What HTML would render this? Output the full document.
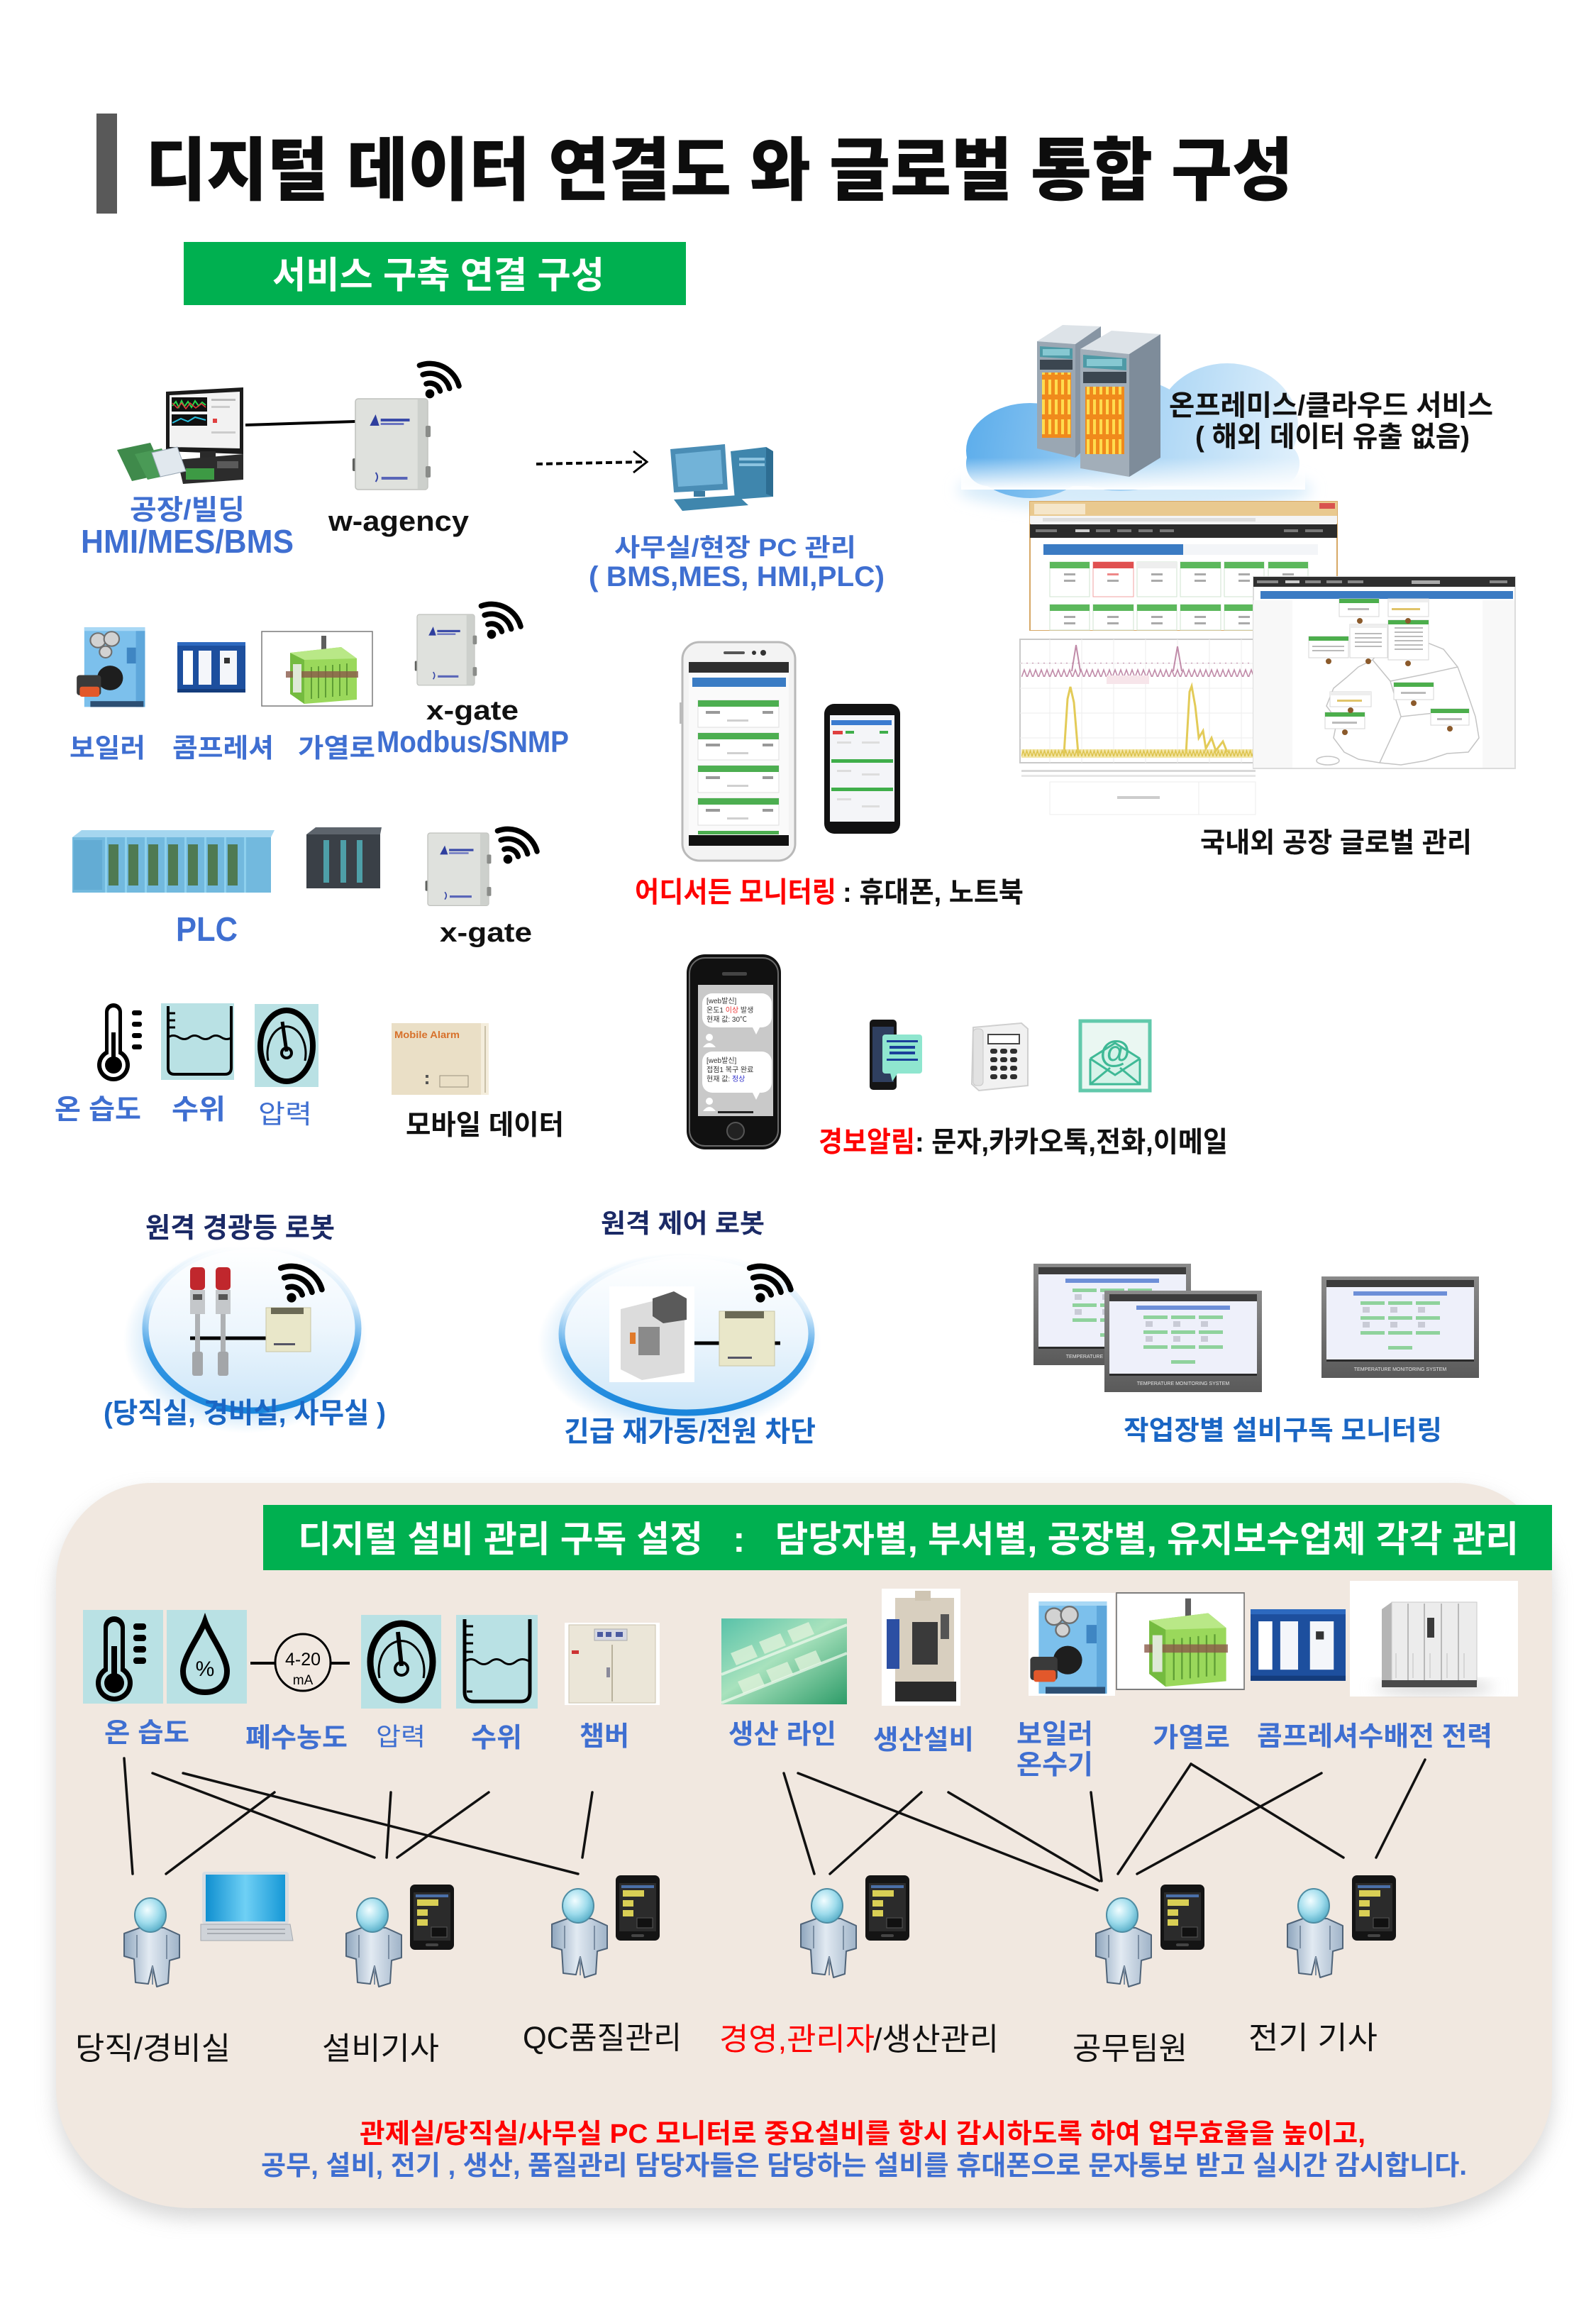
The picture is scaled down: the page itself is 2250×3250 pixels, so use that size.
<!DOCTYPE html>
<html lang="ko"><head><meta charset="utf-8"><title>디지털 데이터 연결도 와 글로벌 통합 구성</title>
<style>
html,body{margin:0;padding:0;background:#fff;width:2250px;height:3250px;overflow:hidden}
svg{display:block}
text{font-family:"Liberation Sans","Noto Sans CJK KR",sans-serif}
</style></head><body>
<svg xmlns="http://www.w3.org/2000/svg" width="2250" height="3250" viewBox="0 0 2250 3250">
<defs>
 <filter id="sh" x="-10%" y="-10%" width="120%" height="120%"><feGaussianBlur stdDeviation="14"/></filter>
 <filter id="bl" x="-30%" y="-30%" width="160%" height="160%"><feGaussianBlur stdDeviation="10"/></filter>
 <linearGradient id="cg" gradientUnits="userSpaceOnUse" x1="1360" y1="560" x2="1840" y2="640">
  <stop offset="0" stop-color="#5aaceb"/><stop offset="0.5" stop-color="#a6d3f4"/><stop offset="1" stop-color="#e2f1fc"/>
 </linearGradient>
 <linearGradient id="cfade" x1="0" y1="0" x2="0" y2="1"><stop offset="0" stop-color="#fff" stop-opacity="0"/><stop offset="1" stop-color="#fff" stop-opacity="1"/></linearGradient>
 <linearGradient id="ring" x1="0" y1="0" x2="0" y2="1">
  <stop offset="0" stop-color="#2b96e6" stop-opacity="0"/><stop offset="0.35" stop-color="#2b96e6" stop-opacity="0.15"/><stop offset="0.65" stop-color="#1a8ae0" stop-opacity="0.85"/><stop offset="1" stop-color="#1a86dc"/>
 </linearGradient>
 <linearGradient id="inner" x1="0" y1="0" x2="0" y2="1">
  <stop offset="0" stop-color="#fff"/><stop offset="0.5" stop-color="#edf6fd"/><stop offset="1" stop-color="#cde6f8"/>
 </linearGradient>
 <radialGradient id="halo"><stop offset="0.78" stop-color="#c9e4f8" stop-opacity="0.8"/><stop offset="1" stop-color="#c9e4f8" stop-opacity="0"/></radialGradient>
 <radialGradient id="head" cx="0.4" cy="0.35" r="0.65"><stop offset="0" stop-color="#f2fdff"/><stop offset="0.6" stop-color="#9fdcec"/><stop offset="1" stop-color="#5fb3cc"/></radialGradient>
 <linearGradient id="body" x1="0" y1="0" x2="1" y2="0"><stop offset="0" stop-color="#8ea5bd"/><stop offset="0.45" stop-color="#e2eaf2"/><stop offset="1" stop-color="#9fb3c8"/></linearGradient>
 <linearGradient id="pl" x1="0" y1="0" x2="1" y2="1"><stop offset="0" stop-color="#58c2a9"/><stop offset="0.45" stop-color="#a8e2bd"/><stop offset="1" stop-color="#2e9c69"/></linearGradient>
 <linearGradient id="lap" x1="0" y1="0" x2="1" y2="0"><stop offset="0" stop-color="#0f8fd0"/><stop offset="0.5" stop-color="#6fd0f5"/><stop offset="1" stop-color="#1597d6"/></linearGradient>
 <linearGradient id="monf" x1="0" y1="0" x2="0" y2="1"><stop offset="0" stop-color="#8a8a8a"/><stop offset="1" stop-color="#5a5a5a"/></linearGradient>
 <pattern id="srv" width="9" height="28" patternUnits="userSpaceOnUse"><rect width="9" height="28" fill="#f08a1c"/><rect x="2" y="3" width="4" height="21" fill="#ffdc4e"/></pattern>
 <pattern id="zz" width="8" height="20" patternUnits="userSpaceOnUse"><polyline points="0,15 4,4 8,15" fill="none" stroke="#c08aa8" stroke-width="1.6"/></pattern>
 <pattern id="yz" width="5" height="12" patternUnits="userSpaceOnUse"><rect width="5" height="12" fill="#f3e6a6"/><polyline points="0,10 2.5,2 5,10" fill="none" stroke="#dcc24a" stroke-width="1.4"/></pattern>

 <g id="wifi" fill="none" stroke="#000" stroke-width="6.5" stroke-linecap="round">
  <path d="M-4.4 -12.2 A13 13 0 0 1 12.6 -3.4"/>
  <path d="M-8.6 -23.5 A25 25 0 0 1 24.1 -6.5"/>
  <path d="M-12.7 -34.8 A37 37 0 0 1 35.7 -9.6"/>
  <circle r="5.5" fill="#000" stroke="none"/>
 </g>

 <g id="gw">
  <rect x="-4" y="84" width="7" height="18" rx="2" fill="#5f615e"/>
  <rect x="0" y="0" width="100" height="128" rx="4" fill="#dfe1dd" stroke="#bfc1bd" stroke-width="1.5"/>
  <rect x="86" y="1" width="13" height="126" fill="#cdd0cc"/>
  <rect x="97" y="38" width="7" height="16" rx="2" fill="#8a8c89"/>
  <rect x="97" y="95" width="7" height="16" rx="2" fill="#8a8c89"/>
  <path d="M20 38 L28 22 L33 38 Z" fill="#2f3f9e"/>
  <rect x="35" y="28" width="40" height="4" fill="#3a4aa8"/>
  <rect x="35" y="34" width="32" height="3" fill="#6a74c0"/>
  <rect x="36" y="110" width="36" height="4" fill="#5a66b8"/>
  <path d="M28 104 q5 6 0 13" stroke="#3a4aa8" stroke-width="2" fill="none"/>
 </g>

 <g id="boiler">
  <rect x="12" y="6" width="80" height="110" fill="#7cc0ec"/>
  <rect x="80" y="10" width="12" height="106" fill="#5ea7db"/>
  <rect x="12" y="6" width="80" height="5" fill="#a9d8f5"/>
  <circle cx="30" cy="24" r="10" fill="#d2d2d2" stroke="#6f6f6f" stroke-width="2"/>
  <circle cx="48" cy="22" r="10" fill="#d2d2d2" stroke="#6f6f6f" stroke-width="2"/>
  <circle cx="40" cy="40" r="8" fill="#d2d2d2" stroke="#6f6f6f" stroke-width="2"/>
  <rect x="68" y="34" width="12" height="22" fill="#3f86c3"/>
  <circle cx="46" cy="76" r="17" fill="#1e1e1e"/>
  <rect x="2" y="72" width="32" height="28" rx="4" fill="#3a3a3a"/>
  <rect x="6" y="88" width="26" height="14" rx="3" fill="#e2582b"/>
  <rect x="20" y="108" width="70" height="8" fill="#2d4f73"/>
 </g>

 <g id="furn">
  <rect x="0" y="0" width="156" height="105" fill="#fff" stroke="#7a7a7a" stroke-width="1.5"/>
  <rect x="84" y="6" width="7" height="26" fill="#5e5e5e"/>
  <polygon points="40,30 112,22 134,38 134,96 60,102 40,88" fill="#9ad85b"/>
  <polygon points="40,30 60,40 60,102 40,88" fill="#74bb3f"/>
  <polygon points="40,30 112,22 134,38 60,40" fill="#b9e887"/>
  <g stroke="#5f9e35" stroke-width="2"><line x1="70" y1="50" x2="70" y2="95"/><line x1="80" y1="49" x2="80" y2="94"/><line x1="90" y1="48" x2="90" y2="93"/><line x1="100" y1="47" x2="100" y2="92"/><line x1="110" y1="46" x2="110" y2="91"/><line x1="120" y1="45" x2="120" y2="90"/></g>
  <rect x="34" y="56" width="102" height="9" fill="#8a5a4a" opacity="0.8"/>
  <rect x="44" y="46" width="12" height="40" fill="#dfe9d6"/>
 </g>

 <g id="comp">
  <rect x="0" y="0" width="96" height="71" fill="#1d4f9e"/>
  <rect x="0" y="0" width="96" height="5" fill="#2d69bf"/>
  <rect x="8" y="12" width="14" height="48" fill="#fff"/>
  <rect x="30" y="12" width="18" height="48" fill="#f4f6fa"/>
  <rect x="60" y="12" width="24" height="48" fill="#f4f6fa"/>
  <rect x="66" y="22" width="8" height="8" fill="#333"/>
  <rect x="0" y="66" width="96" height="5" fill="#143c7c"/>
 </g>

 <g id="mon">
  <rect width="222" height="143" fill="url(#monf)"/>
  <rect x="7" y="5" width="208" height="10" fill="#3c3c3c"/>
  <rect x="7" y="15" width="208" height="102" fill="#eef0fa"/>
  <rect x="45" y="21" width="132" height="6" fill="#6d8fd8"/>
  <g fill="#8fd29c">
   <rect x="55" y="35" width="34" height="5"/><rect x="94" y="35" width="34" height="5"/><rect x="133" y="35" width="34" height="5"/>
   <rect x="55" y="56" width="34" height="5"/><rect x="94" y="56" width="34" height="5"/><rect x="133" y="56" width="34" height="5"/>
   <rect x="55" y="77" width="34" height="5"/><rect x="94" y="77" width="34" height="5"/><rect x="133" y="77" width="34" height="5"/>
   <rect x="94" y="98" width="34" height="5"/>
  </g>
  <g fill="#c9cbd6">
   <rect x="58" y="43" width="10" height="8"/><rect x="97" y="43" width="10" height="8"/><rect x="136" y="43" width="10" height="8"/>
   <rect x="58" y="64" width="10" height="8"/><rect x="97" y="64" width="10" height="8"/><rect x="136" y="64" width="10" height="8"/>
  </g>
  <rect x="7" y="117" width="208" height="3" fill="#2b2b2b"/>
  <text x="111" y="133" font-size="7" text-anchor="middle" fill="#e5e5e5">TEMPERATURE MONITORING SYSTEM</text>
 </g>

 <g id="person">
  <path d="M10 50 L32 42 L66 42 L88 52 L88 84 L74 88 L72 120 L56 125 L50 96 L44 121 L26 119 L24 86 L10 82 Z" fill="url(#body)" stroke="#4f6378" stroke-width="2" stroke-linejoin="round"/>
  <path d="M50 96 L50 122 M28 52 L28 84 M70 52 L70 86" stroke="#7a8da2" stroke-width="2" fill="none"/>
  <ellipse cx="47" cy="24" rx="22" ry="24" fill="url(#head)" stroke="#4f8da3" stroke-width="2"/>
 </g>

 <g id="phn">
  <rect x="0" y="0" width="62" height="92" rx="7" fill="#141414"/>
  <rect x="5" y="11" width="52" height="68" fill="#2b2b2b"/>
  <rect x="8" y="14" width="46" height="4" fill="#4a6fa8"/>
  <rect x="10" y="21" width="30" height="9" fill="#d9cf55"/>
  <rect x="10" y="35" width="15" height="9" fill="#d9cf55"/>
  <rect x="10" y="49" width="15" height="9" fill="#d9cf55"/>
  <rect x="30" y="60" width="22" height="14" fill="#111" stroke="#555"/>
  <rect x="22" y="83" width="18" height="4" rx="2" fill="#444"/>
 </g>
</defs>

<!-- ===== TITLE ===== -->
<rect x="136" y="160" width="29" height="141" fill="#595959"/>
<text x="205" y="274" font-size="97" font-weight="900" fill="#0d0d0d" textLength="1618" lengthAdjust="spacingAndGlyphs">디지털 데이터 연결도 와 글로벌 통합 구성</text>

<rect x="259" y="341" width="708" height="89" fill="#00b050"/>
<text x="384" y="406" font-size="52" font-weight="700" fill="#fff" textLength="468" lengthAdjust="spacingAndGlyphs">서비스 구축 연결 구성</text>

<!-- ===== HMI computer ===== -->
<polygon points="234,552 343,546 343,640 234,636" fill="#1b1b1b"/>
<polygon points="239,557 338,552 338,632 239,630" fill="#f2f2f2"/>
<rect x="242" y="560" width="50" height="20" fill="#111"/>
<polyline points="243,572 248,566 252,574 256,565 260,573 265,566 270,574 275,565 280,572 285,567 290,571" stroke="#27d64a" stroke-width="2" fill="none"/>
<polyline points="243,568 250,575 256,568 262,576 268,568 276,575 284,569 290,574" stroke="#e23b3b" stroke-width="1.5" fill="none"/>
<rect x="242" y="584" width="50" height="16" fill="#111"/>
<polyline points="243,596 255,590 265,594 275,588 290,592" stroke="#27c0e0" stroke-width="2" fill="none"/>
<rect x="298" y="562" width="34" height="3" fill="#bbb"/><rect x="298" y="572" width="26" height="3" fill="#ccc"/><rect x="300" y="590" width="6" height="6" fill="#e04040"/><rect x="298" y="608" width="34" height="3" fill="#ccc"/>
<rect x="282" y="636" width="22" height="10" fill="#2a2a2a"/>
<polygon points="250,648 343,640 343,676 258,682" fill="#2c2c2c"/>
<rect x="262" y="660" width="40" height="16" fill="#3d9a44"/>
<rect x="306" y="650" width="30" height="10" fill="#5a5a5a"/>
<polygon points="165,634 212,624 232,668 186,678" fill="#3f8a4b"/>
<polygon points="190,640 228,632 246,668 208,676" fill="#4a9a56"/>
<polygon points="214,638 250,630 262,664 226,672" fill="#e1e8ee" stroke="#9aa7b5"/>
<line x1="346" y1="599" x2="501" y2="594" stroke="#000" stroke-width="4"/>

<use href="#gw" transform="translate(501,562) scale(1.02,1.0)"/>
<use href="#wifi" transform="translate(606,555) scale(1.15)"/>

<text x="183" y="732" font-size="39" font-weight="700" fill="#3f6fd1" textLength="162" lengthAdjust="spacingAndGlyphs">공장/빌딩</text>
<text x="114" y="779" font-size="46" font-weight="700" fill="#3f6fd1" textLength="300" lengthAdjust="spacingAndGlyphs">HMI/MES/BMS</text>
<text x="463" y="748" font-size="40" font-weight="700" fill="#111" textLength="198" lengthAdjust="spacingAndGlyphs">w-agency</text>

<!-- dashed arrow -->
<line x1="756" y1="654" x2="906" y2="651" stroke="#000" stroke-width="4" stroke-dasharray="9 5"/>
<polyline points="893,636 912,651 893,666" fill="none" stroke="#000" stroke-width="3"/>

<!-- PC icon -->
<polygon points="945,633 1022,626 1026,690 950,694" fill="#4a8db5"/>
<polygon points="952,640 1016,634 1019,682 956,686" fill="#72b3d8"/>
<rect x="978" y="692" width="16" height="8" fill="#3a7aa0"/>
<polygon points="1030,636 1080,630 1090,636 1090,700 1036,704" fill="#3f86ad"/>
<polygon points="1080,630 1090,636 1090,700 1080,696" fill="#2d6d92"/>
<rect x="1042" y="645" width="36" height="4" fill="#8cc3e0"/><rect x="1042" y="653" width="36" height="4" fill="#8cc3e0"/>
<polygon points="950,704 1040,698 1055,712 962,720" fill="#3f86ad"/>

<text x="866" y="784" font-size="35" font-weight="700" fill="#3f6fd1" textLength="341" lengthAdjust="spacingAndGlyphs">사무실/현장 PC 관리</text>
<text x="830" y="826" font-size="40" font-weight="700" fill="#3f6fd1" textLength="417" lengthAdjust="spacingAndGlyphs">( BMS,MES, HMI,PLC)</text>

<!-- ===== Cloud & servers ===== -->
<ellipse cx="1600" cy="690" rx="250" ry="30" fill="#d6ebfa" filter="url(#bl)"/>
<g fill="url(#cg)">
 <ellipse cx="1730" cy="600" rx="100" ry="88"/>
 <ellipse cx="1452" cy="635" rx="90" ry="67"/>
 <ellipse cx="1580" cy="612" rx="112" ry="80"/>
 <rect x="1362" y="622" width="470" height="63" rx="31"/>
</g>
<rect x="1355" y="645" width="485" height="45" fill="url(#cfade)"/>
<!-- rack L -->
<polygon points="1462,481 1498,458 1552,460 1516,485" fill="#dde3e8"/>
<polygon points="1516,485 1552,460 1552,612 1516,645" fill="#8795a3"/>
<polygon points="1462,481 1516,485 1516,645 1462,632" fill="#9aa7b3"/>
<polygon points="1466,488 1512,491 1512,506 1466,503" fill="#4e9aa6"/>
<rect x="1470" y="492" width="38" height="9" fill="#86c8d2"/>
<rect x="1466" y="507" width="46" height="14" fill="#3b4650"/>
<rect x="1469" y="525" width="41" height="92" fill="url(#srv)"/>
<!-- rack R -->
<polygon points="1523,492 1567,466 1636,471 1592,499" fill="#dde3e8"/>
<polygon points="1592,499 1636,471 1636,645 1592,672" fill="#7e8c9a"/>
<polygon points="1523,492 1592,499 1592,672 1523,660" fill="#a2aeb9"/>
<polygon points="1527,500 1588,505 1588,522 1527,518" fill="#4e9aa6"/>
<rect x="1532" y="506" width="50" height="10" fill="#86c8d2"/>
<rect x="1527" y="524" width="61" height="16" fill="#3b4650"/>
<rect x="1530" y="545" width="55" height="95" fill="url(#srv)"/>

<text x="1648" y="585" font-size="40" font-weight="700" fill="#111" textLength="457" lengthAdjust="spacingAndGlyphs">온프레미스/클라우드 서비스</text>
<text x="1685" y="629" font-size="40" font-weight="700" fill="#111" textLength="387" lengthAdjust="spacingAndGlyphs">( 해외 데이터 유출 없음)</text>

<!-- ===== dashboard screenshot ===== -->
<rect x="1452" y="707" width="433" height="182" fill="#fff" stroke="#d7a866" stroke-width="2"/>
<rect x="1452" y="707" width="433" height="20" fill="#e9c98f"/>
<rect x="1458" y="710" width="72" height="15" fill="#f5e6c9"/>
<rect x="1860" y="709" width="22" height="8" fill="#d9534f"/>
<rect x="1452" y="727" width="433" height="11" fill="#f4f4f4"/>
<rect x="1470" y="730" width="300" height="5" fill="#ddd"/>
<rect x="1452" y="739" width="433" height="19" fill="#2b2b2b"/>
<g fill="#777"><rect x="1460" y="746" width="30" height="4"/><rect x="1516" y="746" width="20" height="4" fill="#ccc"/><rect x="1545" y="746" width="20" height="4"/><rect x="1575" y="746" width="20" height="4"/><rect x="1605" y="746" width="20" height="4"/><rect x="1635" y="746" width="20" height="4"/><rect x="1810" y="746" width="20" height="4"/><rect x="1840" y="746" width="25" height="4"/></g>
<rect x="1471" y="767" width="197" height="15" fill="#3b7bc3"/>
<rect x="1668" y="767" width="190" height="15" fill="#f3f5f8"/>
<g stroke="#cfe3cf" fill="#fff">
 <rect x="1480" y="792" width="56" height="49"/><rect x="1541" y="792" width="57" height="49" stroke="#f0a0a0"/><rect x="1603" y="792" width="56" height="49"/><rect x="1664" y="792" width="57" height="49"/><rect x="1726" y="792" width="56" height="49"/><rect x="1788" y="792" width="56" height="49"/>
 <rect x="1480" y="852" width="56" height="36"/><rect x="1541" y="852" width="57" height="36"/><rect x="1603" y="852" width="56" height="36"/><rect x="1664" y="852" width="57" height="36"/><rect x="1726" y="852" width="56" height="36"/>
</g>
<g fill="#5cb85c">
 <rect x="1480" y="792" width="56" height="9"/><rect x="1541" y="792" width="57" height="9" fill="#e05050"/><rect x="1603" y="792" width="56" height="9" fill="#eee"/><rect x="1664" y="792" width="57" height="9"/><rect x="1726" y="792" width="56" height="9"/><rect x="1788" y="792" width="56" height="9"/>
 <rect x="1480" y="852" width="56" height="9"/><rect x="1541" y="852" width="57" height="9"/><rect x="1603" y="852" width="56" height="9"/><rect x="1664" y="852" width="57" height="9"/><rect x="1726" y="852" width="56" height="9"/>
</g>
<g fill="#aaa">
 <rect x="1500" y="808" width="16" height="3"/><rect x="1500" y="817" width="16" height="3"/><rect x="1561" y="808" width="16" height="3" fill="#e88"/><rect x="1561" y="817" width="16" height="3"/><rect x="1623" y="808" width="16" height="3"/><rect x="1623" y="817" width="16" height="3"/><rect x="1684" y="808" width="16" height="3"/><rect x="1684" y="817" width="16" height="3"/><rect x="1746" y="808" width="16" height="3"/><rect x="1746" y="817" width="16" height="3"/><rect x="1808" y="808" width="16" height="3"/><rect x="1808" y="817" width="16" height="3"/>
 <rect x="1500" y="868" width="16" height="3"/><rect x="1500" y="877" width="16" height="3"/><rect x="1561" y="868" width="16" height="3"/><rect x="1561" y="877" width="16" height="3"/><rect x="1623" y="868" width="16" height="3"/><rect x="1623" y="877" width="16" height="3"/><rect x="1684" y="868" width="16" height="3"/><rect x="1684" y="877" width="16" height="3"/><rect x="1746" y="868" width="16" height="3"/><rect x="1746" y="877" width="16" height="3"/>
</g>

<!-- ===== chart screenshot ===== -->
<rect x="1424" y="889" width="346" height="262" fill="#fff"/>
<rect x="1438" y="901" width="332" height="174" fill="#fff" stroke="#c9c9c9" stroke-width="2"/>
<g stroke="#eeeeee" stroke-width="1">
 <line x1="1438" y1="935" x2="1770" y2="935"/><line x1="1438" y1="970" x2="1770" y2="970"/><line x1="1438" y1="1005" x2="1770" y2="1005"/><line x1="1438" y1="1040" x2="1770" y2="1040"/>
 <line x1="1480" y1="901" x2="1480" y2="1075"/><line x1="1525" y1="901" x2="1525" y2="1075"/><line x1="1570" y1="901" x2="1570" y2="1075"/><line x1="1615" y1="901" x2="1615" y2="1075"/><line x1="1660" y1="901" x2="1660" y2="1075"/><line x1="1705" y1="901" x2="1705" y2="1075"/><line x1="1750" y1="901" x2="1750" y2="1075"/>
</g>
<rect x="1440" y="934" width="330" height="20" fill="url(#zz)"/>
<polyline points="1511,946 1517,909 1523,946" fill="none" stroke="#c08aa8" stroke-width="2"/>
<polyline points="1654,946 1660,911 1666,946" fill="none" stroke="#c08aa8" stroke-width="2"/>
<rect x="1560" y="952" width="60" height="12" fill="#f7e5ea"/>
<rect x="1440" y="1056" width="330" height="12" fill="url(#yz)"/>
<polyline points="1500,1062 1505,985 1509,968 1514,990 1520,1062" fill="none" stroke="#e3cb58" stroke-width="3"/>
<polyline points="1672,1062 1677,975 1680,967 1685,995 1690,1040 1696,1030 1700,1055 1708,1040 1714,1058 1724,1045 1730,1060" fill="none" stroke="#e3cb58" stroke-width="3"/>
<g fill="#d8d8d8"><rect x="1440" y="1085" width="330" height="3"/><rect x="1440" y="1092" width="330" height="3" fill="#e6e6e6"/></g>
<g stroke="#eee" fill="none"><rect x="1480" y="1102" width="290" height="46"/><line x1="1690" y1="1102" x2="1690" y2="1148"/></g>
<rect x="1575" y="1122" width="60" height="4" fill="#ccc"/>

<!-- ===== map screenshot ===== -->
<rect x="1767" y="813" width="369" height="270" fill="#fff" stroke="#dcdcdc" stroke-width="2"/>
<rect x="1767" y="813" width="369" height="14" fill="#2f2f2f"/>
<g fill="#888"><rect x="1772" y="818" width="30" height="4"/><rect x="1812" y="818" width="20" height="4" fill="#ccc"/><rect x="1840" y="818" width="22" height="4"/><rect x="1870" y="818" width="22" height="4"/><rect x="1900" y="818" width="22" height="4"/><rect x="1990" y="818" width="40" height="5" fill="#aaa"/><rect x="2100" y="818" width="25" height="4"/></g>
<rect x="1777" y="833" width="356" height="11" fill="#3b7bc3"/>
<rect x="1767" y="846" width="55" height="236" fill="#f8f8f8"/>
<rect x="2090" y="846" width="45" height="236" fill="#f8f8f8"/>
<path d="M1960 900 L1990 890 L2010 905 L2035 915 L2055 940 L2068 975 L2080 1010 L2085 1040 L2070 1060 L2040 1062 L2010 1072 L1975 1078 L1945 1075 L1915 1070 L1895 1060 L1880 1040 L1885 1015 L1870 995 L1880 970 L1898 955 L1915 940 L1935 930 Z M1935 930 L1960 960 L2010 950 L2055 940 M1960 960 L1975 1010 L2068 1000 M1975 1010 L1945 1075" fill="none" stroke="#c4c4c4" stroke-width="1.5"/>
<ellipse cx="1872" cy="1072" rx="16" ry="6" fill="none" stroke="#c4c4c4" stroke-width="1.5"/>
<g stroke="#d5d5d5" fill="#fff">
 <rect x="1888" y="844" width="56" height="25"/><rect x="1957" y="844" width="57" height="25"/><rect x="1957" y="874" width="57" height="56"/><rect x="1903" y="880" width="53" height="47"/><rect x="1845" y="897" width="56" height="30"/><rect x="1965" y="962" width="56" height="24"/><rect x="1875" y="975" width="58" height="21"/><rect x="1868" y="1004" width="56" height="23"/><rect x="2017" y="999" width="54" height="23"/>
</g>
<g fill="#4cae4c">
 <rect x="1888" y="844" width="56" height="6"/><rect x="1957" y="874" width="57" height="6"/><rect x="1845" y="897" width="56" height="6"/><rect x="1965" y="962" width="56" height="6"/><rect x="1868" y="1004" width="56" height="6"/><rect x="2017" y="999" width="54" height="6"/><rect x="1957" y="844" width="57" height="5" fill="#eee"/><rect x="1903" y="880" width="53" height="5" fill="#eee"/><rect x="1875" y="975" width="58" height="5" fill="#eee"/>
</g>
<g fill="#bbb"><rect x="1900" y="857" width="30" height="3"/><rect x="1966" y="884" width="40" height="2"/><rect x="1966" y="890" width="40" height="2"/><rect x="1966" y="896" width="40" height="2"/><rect x="1966" y="902" width="40" height="2"/><rect x="1966" y="908" width="40" height="2"/><rect x="1966" y="914" width="40" height="2"/><rect x="1910" y="892" width="38" height="2"/><rect x="1910" y="898" width="38" height="2"/><rect x="1910" y="904" width="38" height="2"/><rect x="1910" y="910" width="38" height="2"/><rect x="1850" y="910" width="45" height="2"/><rect x="1850" y="916" width="45" height="2"/><rect x="1975" y="975" width="35" height="3"/><rect x="1885" y="986" width="35" height="3" fill="#e0c46a"/><rect x="1878" y="1017" width="35" height="3"/><rect x="2026" y="1012" width="35" height="3"/><rect x="1962" y="857" width="40" height="3" fill="#e0c46a"/></g>
<g fill="#8b5a2b"><circle cx="1917" cy="875" r="4"/><circle cx="1985" cy="875" r="4"/><circle cx="1985" cy="935" r="4"/><circle cx="1929" cy="932" r="4"/><circle cx="1873" cy="932" r="4"/><circle cx="1993" cy="991" r="4"/><circle cx="1904" cy="1001" r="4"/><circle cx="1896" cy="1032" r="4"/><circle cx="2044" cy="1027" r="4"/></g>

<text x="1692" y="1201" font-size="39" font-weight="700" fill="#111" textLength="383" lengthAdjust="spacingAndGlyphs">국내외 공장 글로벌 관리</text>

<!-- ===== left row 2: boiler, compressor, furnace, x-gate ===== -->
<use href="#boiler" transform="translate(106,878) scale(1.07,1.02)"/>
<use href="#comp" transform="translate(250,905) scale(1.0,1.0)"/>
<use href="#furn" transform="translate(369,890)"/>
<use href="#gw" transform="translate(588,866) scale(0.81,0.78)"/>
<use href="#wifi" transform="translate(693,894) scale(1.15)"/>

<text x="601" y="1014" font-size="38" font-weight="700" fill="#111" textLength="130" lengthAdjust="spacingAndGlyphs">x-gate</text>
<text x="98" y="1067" font-size="37" font-weight="700" fill="#3f6fd1" textLength="107" lengthAdjust="spacingAndGlyphs">보일러</text>
<text x="243" y="1067" font-size="37" font-weight="700" fill="#3f6fd1" textLength="143" lengthAdjust="spacingAndGlyphs">콤프레셔</text>
<text x="420" y="1067" font-size="37" font-weight="700" fill="#3f6fd1" textLength="109" lengthAdjust="spacingAndGlyphs">가열로</text>
<text x="531" y="1060" font-size="43" font-weight="700" fill="#3f6fd1" textLength="271" lengthAdjust="spacingAndGlyphs">Modbus/SNMP</text>

<!-- ===== phones (monitoring) ===== -->
<rect x="962" y="905" width="159" height="308" rx="24" fill="#f3f3f3" stroke="#b9b9b9" stroke-width="3"/>
<rect x="958" y="990" width="4" height="30" fill="#bbb"/>
<rect x="1020" y="918" width="30" height="4" rx="2" fill="#555"/>
<circle cx="1063" cy="920" r="3" fill="#333"/><circle cx="1076" cy="920" r="4" fill="#333"/>
<rect x="971" y="933" width="141" height="259" fill="#fafafa"/>
<rect x="971" y="933" width="141" height="15" fill="#2e2e2e"/>
<rect x="976" y="955" width="132" height="13" fill="#3a7cc4"/>
<g fill="#fff" stroke="#ddd"><rect x="984" y="987" width="114" height="38"/><rect x="984" y="1033" width="114" height="38"/><rect x="984" y="1079" width="114" height="38"/><rect x="984" y="1125" width="114" height="38"/></g>
<g fill="#4cae50"><rect x="984" y="987" width="114" height="9"/><rect x="984" y="1033" width="114" height="9"/><rect x="984" y="1079" width="114" height="9"/><rect x="984" y="1125" width="114" height="9"/><rect x="984" y="1171" width="114" height="5"/></g>
<g fill="#999"><rect x="995" y="1002" width="20" height="4"/><rect x="1075" y="1002" width="15" height="4"/><rect x="995" y="1048" width="20" height="4"/><rect x="1075" y="1048" width="15" height="4"/><rect x="995" y="1094" width="20" height="4"/><rect x="1075" y="1094" width="15" height="4"/><rect x="995" y="1140" width="20" height="4"/><rect x="1075" y="1140" width="15" height="4"/></g>
<g fill="#d0d0d0"><rect x="1025" y="1014" width="30" height="3"/><rect x="1025" y="1060" width="30" height="3"/><rect x="1025" y="1106" width="30" height="3"/><rect x="1025" y="1152" width="30" height="3"/></g>
<rect x="971" y="1177" width="141" height="15" fill="#111"/>

<rect x="1162" y="992" width="107" height="183" rx="14" fill="#111"/>
<rect x="1170" y="1008" width="91" height="150" fill="#f4f5f8"/>
<rect x="1172" y="1015" width="85" height="7" fill="#3b7bd0"/>
<rect x="1174" y="1030" width="14" height="5" fill="#e04040"/>
<g fill="#3fae4a"><rect x="1172" y="1070" width="87" height="5"/><rect x="1172" y="1110" width="87" height="5"/><rect x="1192" y="1030" width="12" height="4"/><rect x="1240" y="1030" width="12" height="4"/></g>
<g fill="#ddd"><rect x="1180" y="1045" width="20" height="3"/><rect x="1215" y="1045" width="25" height="3"/><rect x="1180" y="1085" width="20" height="3"/><rect x="1215" y="1090" width="25" height="3"/><rect x="1180" y="1125" width="20" height="3"/><rect x="1215" y="1135" width="25" height="3"/></g>

<text x="895" y="1271" font-size="40" font-weight="700" fill="#ff0000" textLength="284" lengthAdjust="spacingAndGlyphs">어디서든 모니터링</text>
<text x="1188" y="1271" font-size="40" font-weight="700" fill="#111" textLength="255" lengthAdjust="spacingAndGlyphs">: 휴대폰, 노트북</text>

<!-- ===== PLC row ===== -->
<polygon points="102,1180 115,1170 387,1170 382,1180" fill="#a5d6ef"/>
<rect x="102" y="1180" width="280" height="78" fill="#72b9de"/>
<rect x="104" y="1184" width="40" height="70" fill="#63acd4"/>
<g fill="#4f7a52">
 <rect x="153" y="1190" width="14" height="58"/><rect x="181" y="1190" width="14" height="58"/><rect x="209" y="1190" width="14" height="58"/><rect x="237" y="1190" width="14" height="58"/><rect x="265" y="1190" width="14" height="58"/><rect x="293" y="1190" width="14" height="58"/><rect x="321" y="1190" width="14" height="58"/>
</g>
<g fill="#8dd0ee"><rect x="148" y="1180" width="3" height="78"/><rect x="176" y="1180" width="3" height="78"/><rect x="204" y="1180" width="3" height="78"/><rect x="232" y="1180" width="3" height="78"/><rect x="260" y="1180" width="3" height="78"/><rect x="288" y="1180" width="3" height="78"/><rect x="316" y="1180" width="3" height="78"/><rect x="344" y="1180" width="3" height="78"/></g>
<polygon points="432,1176 445,1166 538,1166 536,1176" fill="#5d646c"/>
<rect x="432" y="1176" width="104" height="76" fill="#3a4047"/>
<g fill="#4e9fa8"><rect x="456" y="1184" width="8" height="60"/><rect x="480" y="1184" width="8" height="60"/><rect x="503" y="1184" width="8" height="60"/></g>

<use href="#gw" transform="translate(603,1174) scale(0.86,0.8)"/>
<use href="#wifi" transform="translate(716,1211) scale(1.15)"/>

<text x="248" y="1326" font-size="48" font-weight="700" fill="#3f6fd1" textLength="87" lengthAdjust="spacingAndGlyphs">PLC</text>
<text x="620" y="1327" font-size="38" font-weight="700" fill="#111" textLength="130" lengthAdjust="spacingAndGlyphs">x-gate</text>

<!-- ===== sensors top ===== -->
<rect x="148" y="1414" width="24" height="80" rx="12" fill="#000"/>
<circle cx="160" cy="1501" r="23" fill="#000"/>
<rect x="153" y="1420" width="14" height="80" rx="7" fill="#fff"/>
<circle cx="160" cy="1501" r="17" fill="#fff"/>
<rect x="157" y="1455" width="6" height="45" fill="#000"/>
<circle cx="160" cy="1501" r="12" fill="#000"/>
<g fill="#000"><rect x="186" y="1424" width="14" height="7" rx="3"/><rect x="186" y="1440" width="14" height="7" rx="3"/><rect x="186" y="1456" width="14" height="7" rx="3"/><rect x="186" y="1472" width="14" height="7" rx="3"/></g>

<rect x="227" y="1414" width="103" height="108" fill="#b9e1e4"/>
<path d="M237 1418 L237 1505 Q237 1514 246 1514 L317 1514 Q326 1514 326 1505 L326 1418" fill="none" stroke="#000" stroke-width="4"/>
<g stroke="#000" stroke-width="3"><line x1="237" y1="1428" x2="247" y2="1428"/><line x1="237" y1="1438" x2="247" y2="1438"/><line x1="237" y1="1448" x2="247" y2="1448"/></g>
<path d="M237 1462 q7 -5 15 0 t15 0 t15 0 t15 0 t15 0 t15 0" fill="none" stroke="#000" stroke-width="3"/>

<rect x="359" y="1415" width="90" height="117" fill="#b9e1e4"/>
<ellipse cx="404" cy="1474" rx="37" ry="50" fill="none" stroke="#000" stroke-width="8"/>
<path d="M378 1495 A27 38 0 1 1 430 1495" fill="none" stroke="#000" stroke-width="3"/>
<path d="M404 1482 L398 1440" stroke="#000" stroke-width="5"/>
<circle cx="404" cy="1484" r="7" fill="none" stroke="#000" stroke-width="4"/>

<text x="77" y="1577" font-size="39" font-weight="700" fill="#3f6fd1" textLength="122" lengthAdjust="spacingAndGlyphs">온 습도</text>
<text x="242" y="1577" font-size="39" font-weight="700" fill="#3f6fd1" textLength="76" lengthAdjust="spacingAndGlyphs">수위</text>
<text x="364" y="1583" font-size="37" font-weight="400" fill="#3f6fd1" textLength="76" lengthAdjust="spacingAndGlyphs">압력</text>

<!-- Mobile Alarm -->
<rect x="552" y="1442" width="137" height="101" fill="#eadfc6"/>
<rect x="678" y="1442" width="11" height="101" fill="#f4eddc"/>
<line x1="684" y1="1446" x2="684" y2="1540" stroke="#c9c0a8" stroke-width="2"/>
<text x="556" y="1463" font-size="14" font-weight="700" fill="#d7702a" textLength="92" lengthAdjust="spacingAndGlyphs">Mobile Alarm</text>
<rect x="600" y="1515" width="4" height="4" fill="#555"/><rect x="600" y="1524" width="4" height="4" fill="#555"/>
<rect x="620" y="1516" width="40" height="16" fill="none" stroke="#9a927d"/>
<text x="572" y="1599" font-size="39" font-weight="700" fill="#111" textLength="223" lengthAdjust="spacingAndGlyphs">모바일 데이터</text>

<!-- phone 3 (alerts) -->
<rect x="968" y="1345" width="133" height="275" rx="26" fill="#111"/>
<rect x="972" y="1350" width="125" height="265" rx="22" fill="none" stroke="#6a6a6a" stroke-width="2"/>
<rect x="984" y="1388" width="106" height="185" fill="#c9c9c9"/>
<rect x="1018" y="1370" width="35" height="5" rx="2" fill="#444"/>
<circle cx="1037" cy="1594" r="12" fill="#222" stroke="#555" stroke-width="2"/>
<rect x="990" y="1400" width="98" height="48" rx="14" fill="#fff"/>
<path d="M1060 1446 L1066 1458 L1072 1446 Z" fill="#fff"/>
<rect x="990" y="1482" width="98" height="58" rx="14" fill="#fff"/>
<path d="M1060 1538 L1066 1550 L1072 1538 Z" fill="#fff"/>
<text x="996" y="1414" font-size="10" fill="#333">[web발신]</text>
<text x="996" y="1427" font-size="10" fill="#333">온도1 <tspan fill="#e33">이상</tspan> 발생</text>
<text x="996" y="1440" font-size="10" fill="#333">현재 값: 30℃</text>
<text x="996" y="1498" font-size="10" fill="#333">[web발신]</text>
<text x="996" y="1511" font-size="10" fill="#333">접점1 복구 완료</text>
<text x="996" y="1524" font-size="10" fill="#333">현재 값: <tspan fill="#33c">정상</tspan></text>
<circle cx="1000" cy="1462" r="5" fill="#fff"/><path d="M991 1476 q9 -12 18 0 Z" fill="#fff"/>
<circle cx="1000" cy="1552" r="5" fill="#fff"/><path d="M991 1566 q9 -12 18 0 Z" fill="#fff"/>
<rect x="1012" y="1566" width="50" height="3" fill="#222"/>

<!-- alert icons -->
<rect x="1226" y="1437" width="38" height="99" rx="5" fill="#151515"/>
<rect x="1230" y="1447" width="30" height="78" fill="#2f3f5f"/>
<rect x="1244" y="1458" width="56" height="55" rx="4" fill="#8fe6cf"/>
<path d="M1255 1512 L1258 1524 L1266 1512 Z" fill="#8fe6cf"/>
<g fill="#1a3f9a"><rect x="1250" y="1466" width="44" height="3"/><rect x="1254" y="1474" width="36" height="4"/><rect x="1254" y="1482" width="36" height="4"/><rect x="1250" y="1492" width="44" height="3"/></g>

<path d="M1372 1448 L1440 1442 L1449 1450 L1449 1530 L1380 1537 L1370 1528 Z" fill="#f1f1f1" stroke="#cfcfcf" stroke-width="2"/>
<rect x="1372" y="1450" width="14" height="80" rx="5" fill="#e2e2e2" stroke="#c8c8c8"/>
<rect x="1393" y="1458" width="44" height="13" fill="#fff" stroke="#444" stroke-width="2"/>
<g fill="#2e2e2e"><rect x="1396" y="1478" width="10" height="7" rx="3"/><rect x="1410" y="1478" width="10" height="7" rx="3"/><rect x="1424" y="1478" width="10" height="7" rx="3"/><rect x="1396" y="1490" width="10" height="7" rx="3"/><rect x="1410" y="1490" width="10" height="7" rx="3"/><rect x="1424" y="1490" width="10" height="7" rx="3"/><rect x="1396" y="1502" width="10" height="7" rx="3"/><rect x="1410" y="1502" width="10" height="7" rx="3"/><rect x="1424" y="1502" width="10" height="7" rx="3"/><rect x="1396" y="1514" width="10" height="7" rx="3"/><rect x="1410" y="1514" width="10" height="7" rx="3"/><rect x="1424" y="1514" width="10" height="7" rx="3"/></g>

<rect x="1523" y="1439" width="98" height="98" fill="#eaf7f2" stroke="#62c9ab" stroke-width="5"/>
<path d="M1537 1492 L1537 1528 L1607 1528 L1607 1492 M1537 1492 L1572 1470 L1607 1492 M1537 1528 L1565 1505 M1607 1528 L1579 1505 M1537 1492 L1572 1515 L1607 1492" fill="#d6f3e9" stroke="#3fb996" stroke-width="3"/>
<text x="1572" y="1497" font-size="44" font-weight="700" fill="#3fb996" text-anchor="middle">@</text>

<text x="1154" y="1623" font-size="40" font-weight="700" fill="#ff0000" textLength="136" lengthAdjust="spacingAndGlyphs">경보알림</text>
<text x="1290" y="1623" font-size="40" font-weight="700" fill="#111" textLength="441" lengthAdjust="spacingAndGlyphs">: 문자,카카오톡,전화,이메일</text>

<!-- ===== Robots ===== -->
<text x="205" y="1744" font-size="39" font-weight="700" fill="#1b2a66" textLength="267" lengthAdjust="spacingAndGlyphs">원격 경광등 로봇</text>
<text x="847" y="1737" font-size="37" font-weight="700" fill="#1b2a66" textLength="231" lengthAdjust="spacingAndGlyphs">원격 제어 로봇</text>

<ellipse cx="346" cy="1888" rx="172" ry="132" fill="url(#halo)"/>
<ellipse cx="355" cy="1872" rx="150" ry="116" fill="url(#inner)" stroke="url(#ring)" stroke-width="9"/>
<ellipse cx="958" cy="1894" rx="200" ry="128" fill="url(#halo)"/>
<ellipse cx="968" cy="1880" rx="176" ry="111" fill="url(#inner)" stroke="url(#ring)" stroke-width="9"/>

<!-- robot 1 contents -->
<line x1="268" y1="1886" x2="376" y2="1886" stroke="#000" stroke-width="5"/>
<g>
 <rect x="268" y="1786" width="21" height="32" rx="5" fill="#c0272d"/><rect x="304" y="1786" width="21" height="32" rx="5" fill="#c0272d"/>
 <rect x="268" y="1818" width="21" height="34" fill="#c4c7ca"/><rect x="304" y="1818" width="21" height="34" fill="#c4c7ca"/>
 <rect x="272" y="1824" width="13" height="8" fill="#555"/><rect x="308" y="1824" width="13" height="8" fill="#555"/>
 <rect x="275" y="1852" width="7" height="58" fill="#aeb1b4"/><rect x="311" y="1852" width="7" height="58" fill="#aeb1b4"/>
 <rect x="271" y="1905" width="15" height="34" rx="3" fill="#a3a6a9"/><rect x="307" y="1905" width="15" height="34" rx="3" fill="#a3a6a9"/>
</g>
<rect x="375" y="1843" width="63" height="62" fill="#e9e7c9" stroke="#c9c6a5"/>
<rect x="382" y="1843" width="46" height="9" fill="#6b6a55"/>
<rect x="386" y="1893" width="30" height="3" fill="#556"/>
<use href="#wifi" transform="translate(411,1829) scale(1.2)"/>

<!-- robot 2 contents -->
<rect x="859" y="1813" width="120" height="135" fill="#fff"/>
<polygon points="875,1845 935,1830 965,1840 965,1935 905,1945 875,1930" fill="#dcdcdc"/>
<polygon points="920,1830 950,1820 968,1830 968,1860 935,1865 920,1855" fill="#5a5a5a"/>
<rect x="900" y="1870" width="30" height="40" fill="#8a8a8a"/>
<rect x="888" y="1878" width="8" height="16" fill="#e07a2a"/>
<line x1="979" y1="1893" x2="1014" y2="1893" stroke="#000" stroke-width="5"/>
<line x1="1090" y1="1893" x2="1100" y2="1893" stroke="#000" stroke-width="5"/>
<rect x="1014" y="1848" width="78" height="77" fill="#e9e7c9" stroke="#c9c6a5"/>
<rect x="1022" y="1848" width="55" height="10" fill="#6b6a55"/>
<rect x="1026" y="1912" width="34" height="3" fill="#556"/>
<use href="#wifi" transform="translate(1072,1829) scale(1.2)"/>

<text x="146" y="2005" font-size="40" font-weight="700" fill="#1a66c4" textLength="398" lengthAdjust="spacingAndGlyphs">(당직실, 경비실, 사무실 )</text>
<text x="795" y="2031" font-size="40" font-weight="700" fill="#1a66c4" textLength="355" lengthAdjust="spacingAndGlyphs">긴급 재가동/전원 차단</text>

<!-- monitors -->
<use href="#mon" transform="translate(1457,1781)"/>
<use href="#mon" transform="translate(1863,1799)"/>
<use href="#mon" transform="translate(1557,1819)"/>
<text x="1584" y="2029" font-size="38" font-weight="700" fill="#1a66c4" textLength="449" lengthAdjust="spacingAndGlyphs">작업장별 설비구독 모니터링</text>

<!-- ===== Bottom beige panel ===== -->
<path d="M214 2090 L2053 2090 A135 140 0 0 1 2188 2230 L2188 2942 A190 170 0 0 1 1998 3112 L269 3112 A190 170 0 0 1 79 2942 L79 2230 A135 140 0 0 1 214 2090 Z" fill="#b5b5b5" opacity="0.55" transform="translate(0,14)" filter="url(#sh)"/>
<path d="M214 2090 L2053 2090 A135 140 0 0 1 2188 2230 L2188 2942 A190 170 0 0 1 1998 3112 L269 3112 A190 170 0 0 1 79 2942 L79 2230 A135 140 0 0 1 214 2090 Z" fill="#f1e8e0"/>

<rect x="371" y="2121" width="1817" height="92" fill="#00b050"/>
<text x="420" y="2187" font-size="51" font-weight="700" fill="#fff" textLength="1721" lengthAdjust="spacingAndGlyphs">디지털 설비 관리 구독 설정&#160;&#160;&#160;:&#160;&#160;&#160;담당자별, 부서별, 공장별, 유지보수업체 각각 관리</text>

<!-- bottom icons -->
<rect x="117" y="2269" width="113" height="132" fill="#b9e1e4"/>
<rect x="235" y="2269" width="113" height="132" fill="#b9e1e4"/>
<rect x="146" y="2278" width="30" height="92" rx="15" fill="#000"/>
<circle cx="161" cy="2372" r="26" fill="#000"/>
<rect x="152" y="2286" width="18" height="86" rx="9" fill="#b9e1e4"/>
<circle cx="161" cy="2372" r="19" fill="#b9e1e4"/>
<rect x="157" y="2320" width="8" height="52" fill="#000"/>
<circle cx="161" cy="2372" r="14" fill="#000"/>
<g fill="#000"><rect x="188" y="2288" width="18" height="9" rx="4"/><rect x="188" y="2304" width="18" height="9" rx="4"/><rect x="188" y="2320" width="18" height="9" rx="4"/><rect x="188" y="2336" width="18" height="9" rx="4"/></g>
<path d="M289 2285 C282 2305 258 2335 258 2355 C258 2375 272 2385 289 2385 C306 2385 320 2375 320 2355 C320 2335 296 2305 289 2285 Z" fill="none" stroke="#000" stroke-width="8"/>
<text x="289" y="2362" font-size="30" fill="#000" text-anchor="middle">%</text>

<line x1="353" y1="2344" x2="493" y2="2344" stroke="#000" stroke-width="4"/>
<ellipse cx="427" cy="2343" rx="39" ry="40" fill="#f1e8e0" stroke="#000" stroke-width="3"/>
<text x="427" y="2347" font-size="25" fill="#000" text-anchor="middle">4-20</text>
<text x="427" y="2374" font-size="19" fill="#000" text-anchor="middle">mA</text>

<rect x="509" y="2276" width="113" height="132" fill="#b9e1e4"/>
<ellipse cx="566" cy="2342" rx="44" ry="54" fill="none" stroke="#000" stroke-width="9"/>
<path d="M535 2365 A32 42 0 1 1 597 2365" fill="none" stroke="#000" stroke-width="3"/>
<path d="M566 2348 L561 2300" stroke="#000" stroke-width="6"/>
<circle cx="566" cy="2352" r="9" fill="none" stroke="#000" stroke-width="4"/>

<rect x="643" y="2276" width="115" height="132" fill="#b9e1e4"/>
<path d="M655 2282 L655 2385 Q655 2398 668 2398 L734 2398 Q747 2398 747 2385 L747 2282" fill="none" stroke="#000" stroke-width="5"/>
<g stroke="#000" stroke-width="3"><line x1="655" y1="2292" x2="667" y2="2292"/><line x1="655" y1="2304" x2="667" y2="2304"/><line x1="655" y1="2316" x2="667" y2="2316"/><line x1="655" y1="2328" x2="667" y2="2328"/><line x1="658" y1="2384" x2="666" y2="2384"/></g>
<path d="M655 2342 q9 -7 18 0 t18 0 t18 0 t18 0 t20 0" fill="none" stroke="#000" stroke-width="3"/>

<!-- chamber -->
<rect x="796" y="2287" width="134" height="116" fill="#fff"/>
<rect x="802" y="2290" width="122" height="110" fill="#ebe6d8" stroke="#c9c2ad"/>
<rect x="838" y="2296" width="46" height="16" fill="#d6d8e2" stroke="#aaa"/>
<g fill="#4a5aa0"><rect x="842" y="2300" width="8" height="7"/><rect x="854" y="2300" width="8" height="7"/><rect x="868" y="2300" width="10" height="7"/></g>
<line x1="863" y1="2318" x2="863" y2="2398" stroke="#b8b19c" stroke-width="2"/>
<rect x="806" y="2326" width="10" height="5" fill="#c33"/>
<rect x="855" y="2350" width="5" height="14" fill="#8a8a9a"/>

<!-- production line -->
<rect x="1017" y="2281" width="177" height="121" fill="url(#pl)"/>
<g fill="#dff2da" opacity="0.8">
 <polygon points="1030,2330 1060,2318 1068,2335 1038,2347"/><polygon points="1070,2314 1100,2302 1108,2319 1078,2331"/><polygon points="1110,2298 1140,2286 1148,2303 1118,2315"/>
 <polygon points="1040,2370 1070,2358 1078,2375 1048,2387"/><polygon points="1080,2354 1110,2342 1118,2359 1088,2371"/><polygon points="1120,2338 1150,2326 1158,2343 1128,2355"/>
</g>
<g stroke="#f4fbf0" stroke-width="4" opacity="0.7"><line x1="1017" y1="2400" x2="1194" y2="2330"/><line x1="1017" y1="2360" x2="1194" y2="2290"/></g>

<!-- CNC -->
<rect x="1243" y="2239" width="111" height="165" fill="#fff"/>
<rect x="1262" y="2252" width="83" height="118" fill="#d8cfbf"/>
<rect x="1290" y="2242" width="22" height="14" fill="#cfc5b3"/>
<rect x="1250" y="2282" width="18" height="70" fill="#2c4fa3"/>
<rect x="1286" y="2286" width="36" height="60" fill="#3a3a3a"/>
<rect x="1326" y="2275" width="12" height="35" fill="#555"/>
<rect x="1262" y="2370" width="86" height="28" fill="#2a2a2a"/>

<!-- boiler, furnace, compressor, panel (bottom) -->
<rect x="1450" y="2245" width="122" height="145" fill="#fff"/>
<use href="#boiler" transform="translate(1450,2250) scale(1.2,1.18)"/>
<use href="#furn" transform="translate(1574,2245) scale(1.154,1.295)"/>
<use href="#comp" transform="translate(1763,2268) scale(1.396,1.42)"/>
<rect x="1903" y="2228" width="237" height="163" fill="#fff"/>
<ellipse cx="2022" cy="2378" rx="85" ry="9" fill="#d0d0d0" filter="url(#bl)"/>
<polygon points="1948,2268 1962,2258 1962,2372 1948,2378" fill="#b5b5b5"/>
<rect x="1962" y="2258" width="120" height="112" fill="#ececec" stroke="#c8c8c8"/>
<g stroke="#b9b9b9" stroke-width="2"><line x1="1985" y1="2260" x2="1985" y2="2368"/><line x1="2008" y1="2260" x2="2008" y2="2368"/><line x1="2032" y1="2260" x2="2032" y2="2368"/><line x1="2056" y1="2260" x2="2056" y2="2368"/></g>
<g stroke="#cfcfcf" stroke-width="1.5"><line x1="1968" y1="2330" x2="1968" y2="2365"/><line x1="1992" y1="2330" x2="1992" y2="2365"/><line x1="2016" y1="2330" x2="2016" y2="2365"/><line x1="2040" y1="2330" x2="2040" y2="2365"/><line x1="2064" y1="2330" x2="2064" y2="2365"/></g>
<rect x="2012" y="2280" width="10" height="28" fill="#3a3a3a"/>
<rect x="1948" y="2368" width="134" height="10" fill="#4a4a4a"/>

<!-- bottom labels -->
<text x="147" y="2455" font-size="38" font-weight="700" fill="#3f6fd1" textLength="120" lengthAdjust="spacingAndGlyphs">온 습도</text>
<text x="346" y="2462" font-size="38" font-weight="700" fill="#3f6fd1" textLength="144" lengthAdjust="spacingAndGlyphs">폐수농도</text>
<text x="530" y="2460" font-size="35" font-weight="400" fill="#3f6fd1" textLength="70" lengthAdjust="spacingAndGlyphs">압력</text>
<text x="664" y="2462" font-size="38" font-weight="700" fill="#3f6fd1" textLength="72" lengthAdjust="spacingAndGlyphs">수위</text>
<text x="817" y="2460" font-size="38" font-weight="700" fill="#3f6fd1" textLength="70" lengthAdjust="spacingAndGlyphs">챔버</text>
<text x="1027" y="2457" font-size="38" font-weight="700" fill="#3f6fd1" textLength="152" lengthAdjust="spacingAndGlyphs">생산 라인</text>
<text x="1231" y="2465" font-size="38" font-weight="700" fill="#3f6fd1" textLength="142" lengthAdjust="spacingAndGlyphs">생산설비</text>
<text x="1433" y="2457" font-size="38" font-weight="700" fill="#3f6fd1" textLength="108" lengthAdjust="spacingAndGlyphs">보일러</text>
<text x="1433" y="2500" font-size="38" font-weight="700" fill="#3f6fd1" textLength="108" lengthAdjust="spacingAndGlyphs">온수기</text>
<text x="1625" y="2462" font-size="38" font-weight="700" fill="#3f6fd1" textLength="109" lengthAdjust="spacingAndGlyphs">가열로</text>
<text x="1772" y="2460" font-size="38" font-weight="700" fill="#3f6fd1" textLength="332" lengthAdjust="spacingAndGlyphs">콤프레셔수배전 전력</text>

<!-- connection lines -->
<g stroke="#111" stroke-width="3.5" stroke-linecap="round">
 <line x1="175" y1="2478" x2="187" y2="2641"/>
 <line x1="215" y1="2499" x2="528" y2="2618"/>
 <line x1="258" y1="2499" x2="815" y2="2641"/>
 <line x1="387" y1="2526" x2="234" y2="2641"/>
 <line x1="551" y1="2526" x2="545" y2="2618"/>
 <line x1="689" y1="2526" x2="560" y2="2618"/>
 <line x1="835" y1="2526" x2="821" y2="2618"/>
 <line x1="1105" y1="2499" x2="1148" y2="2641"/>
 <line x1="1125" y1="2499" x2="1547" y2="2664"/>
 <line x1="1299" y1="2526" x2="1170" y2="2641"/>
 <line x1="1337" y1="2526" x2="1550" y2="2651"/>
 <line x1="1538" y1="2526" x2="1553" y2="2651"/>
 <line x1="1679" y1="2486" x2="1576" y2="2641"/>
 <line x1="1679" y1="2486" x2="1894" y2="2618"/>
 <line x1="1863" y1="2499" x2="1603" y2="2641"/>
 <line x1="2009" y1="2480" x2="1940" y2="2618"/>
</g>

<!-- people -->
<rect x="285" y="2638" width="122" height="74" rx="4" fill="#d8dde2"/>
<rect x="290" y="2642" width="112" height="66" fill="url(#lap)"/>
<polygon points="283,2712 409,2712 413,2735 283,2735" fill="#cfd3d8" stroke="#a5aab0"/>
<g stroke="#9aa0a6" stroke-width="1.5"><line x1="292" y1="2719" x2="402" y2="2719"/><line x1="292" y1="2725" x2="402" y2="2725"/></g>
<use href="#person" transform="translate(165,2675)"/>
<use href="#phn" transform="translate(578,2656)"/>
<use href="#person" transform="translate(478,2675)"/>
<use href="#phn" transform="translate(868,2643)"/>
<use href="#person" transform="translate(768,2662)"/>
<use href="#phn" transform="translate(1220,2643)"/>
<use href="#person" transform="translate(1119,2662)"/>
<use href="#phn" transform="translate(1636,2656)"/>
<use href="#person" transform="translate(1535,2675)"/>
<use href="#phn" transform="translate(1906,2643)"/>
<use href="#person" transform="translate(1805,2662)"/>

<text x="106" y="2902" font-size="44" font-weight="400" fill="#111" textLength="219" lengthAdjust="spacingAndGlyphs">당직/경비실</text>
<text x="454" y="2902" font-size="44" font-weight="400" fill="#111" textLength="165" lengthAdjust="spacingAndGlyphs">설비기사</text>
<text x="737" y="2887" font-size="44" font-weight="400" fill="#111" textLength="224" lengthAdjust="spacingAndGlyphs">QC품질관리</text>
<text x="1014" y="2889" font-size="44" font-weight="400" fill="#ff0000" textLength="219" lengthAdjust="spacingAndGlyphs">경영,관리자</text>
<text x="1231" y="2889" font-size="44" font-weight="400" fill="#111" textLength="177" lengthAdjust="spacingAndGlyphs">/생산관리</text>
<text x="1512" y="2902" font-size="44" font-weight="400" fill="#111" textLength="162" lengthAdjust="spacingAndGlyphs">공무팀원</text>
<text x="1760" y="2887" font-size="44" font-weight="400" fill="#111" textLength="182" lengthAdjust="spacingAndGlyphs">전기 기사</text>

<text x="507" y="3020" font-size="38" font-weight="700" fill="#ff0000" textLength="1418" lengthAdjust="spacingAndGlyphs">관제실/당직실/사무실 PC 모니터로 중요설비를 항시 감시하도록 하여 업무효율을 높이고,</text>
<text x="368" y="3065" font-size="38" font-weight="700" fill="#3f6fd1" textLength="1700" lengthAdjust="spacingAndGlyphs">공무, 설비, 전기 , 생산, 품질관리 담당자들은 담당하는 설비를 휴대폰으로 문자통보 받고 실시간 감시합니다.</text>
</svg>
</body></html>
